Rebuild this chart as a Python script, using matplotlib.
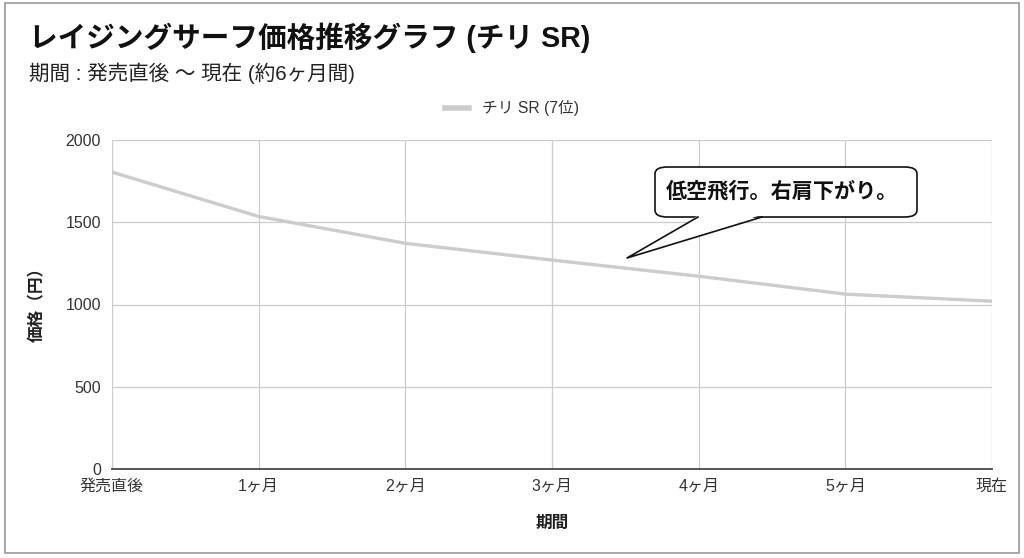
import matplotlib
matplotlib.use("Agg")
import matplotlib.pyplot as plt
from matplotlib.patches import FancyBboxPatch, Polygon, Rectangle
from matplotlib.lines import Line2D

# Latin glyphs in an Arial-like face, Japanese falls back to Noto CJK
plt.rcParams['font.family'] = ['Liberation Sans', 'Noto Sans CJK JP', 'DejaVu Sans']

# data
periods = ['発売直後', '1ヶ月', '2ヶ月', '3ヶ月', '4ヶ月', '5ヶ月', '現在']
prices = [1805, 1535, 1372, 1270, 1172, 1063, 1020]
series_name = 'チリ SR (7位)'
yticks = [0, 500, 1000, 1500, 2000]

W, H = 1024, 558


def px(x, y):
    # pixel position -> figure fraction
    return x / W, 1 - y / H


fig = plt.figure(figsize=(W / 100, H / 100), dpi=100)
fig.patch.set_facecolor('white')

# outer frame
fig.patches.append(Rectangle(px(5, 553), 1014 / W, 550 / H, transform=fig.transFigure,
                             fill=False, edgecolor='#9a9a9a', linewidth=1.2))

l, b = px(112, 469)
r, t = px(992, 140)
ax = fig.add_axes([l, b, r - l, t - b])

x = list(range(len(periods)))
ax.plot(x, prices, color='#cccccc', linewidth=2.4, solid_capstyle='round', zorder=3)

ax.set_xlim(0, len(periods) - 1)
ax.set_ylim(0, 2000)
ax.set_xticks(x)
ax.set_xticklabels(periods, fontsize=11.5, color='#333333')
ax.set_yticks(yticks)
ax.set_yticklabels([str(v) for v in yticks], fontsize=11.5, color='#333333')
ax.tick_params(axis='y', length=0, pad=8)
ax.tick_params(axis='x', length=0, pad=7)
ax.grid(True, color='#cccccc', linewidth=0.9)
for s in ['top', 'right', 'left']:
    ax.spines[s].set_visible(False)
ax.spines['bottom'].set_color('#555555')
ax.spines['bottom'].set_linewidth(1.4)
ax.set_axisbelow(True)

fig.text(*px(552, 523), '期間', ha='center', va='center', fontsize=12,
         fontweight='bold', color='#222222')
fig.text(*px(37, 300), '価格（円）', ha='center', va='center', fontsize=12,
         fontweight='bold', color='#222222', rotation=90)

# titles
fig.text(*px(29, 38), 'レイジングサーフ価格推移グラフ (チリ SR)', ha='left', va='center',
         fontsize=20.6, fontweight='bold', color='#111111')
fig.text(*px(29, 73), '期間 : 発売直後 〜 現在 (約6ヶ月間)', ha='left', va='center',
         fontsize=14.8, color='#222222')

# legend
fig.legend([Line2D([0], [0], color='#cccccc', linewidth=4)], [series_name],
           loc='center', bbox_to_anchor=px(512, 108), frameon=False,
           fontsize=11.3, handlelength=1.5, handletextpad=0.8,
           labelcolor='#333333')

# callout bubble
box = FancyBboxPatch(px(655, 217), (917 - 655) / W, (217 - 167) / H,
                     boxstyle='round,pad=0,rounding_size=0.012',
                     transform=fig.transFigure, facecolor='white',
                     edgecolor='#111111', linewidth=1.2, zorder=5)
fig.patches.append(box)
tail = Polygon([px(699, 215), px(627, 258), px(761, 215)], closed=False,
               transform=fig.transFigure, facecolor='white',
               edgecolor='none', zorder=6)
fig.patches.append(tail)
fig.lines.append(Line2D(*zip(px(698, 217), px(627, 258), px(762, 217)),
                        transform=fig.transFigure, color='#111111',
                        linewidth=1.2, zorder=7))
fig.text(*px(782, 191), '低空飛行。右肩下がり。', ha='center', va='center',
         fontsize=15.2, fontweight='bold', color='#111111', zorder=8)

fig.savefig('out.png', dpi=100, facecolor='white')
